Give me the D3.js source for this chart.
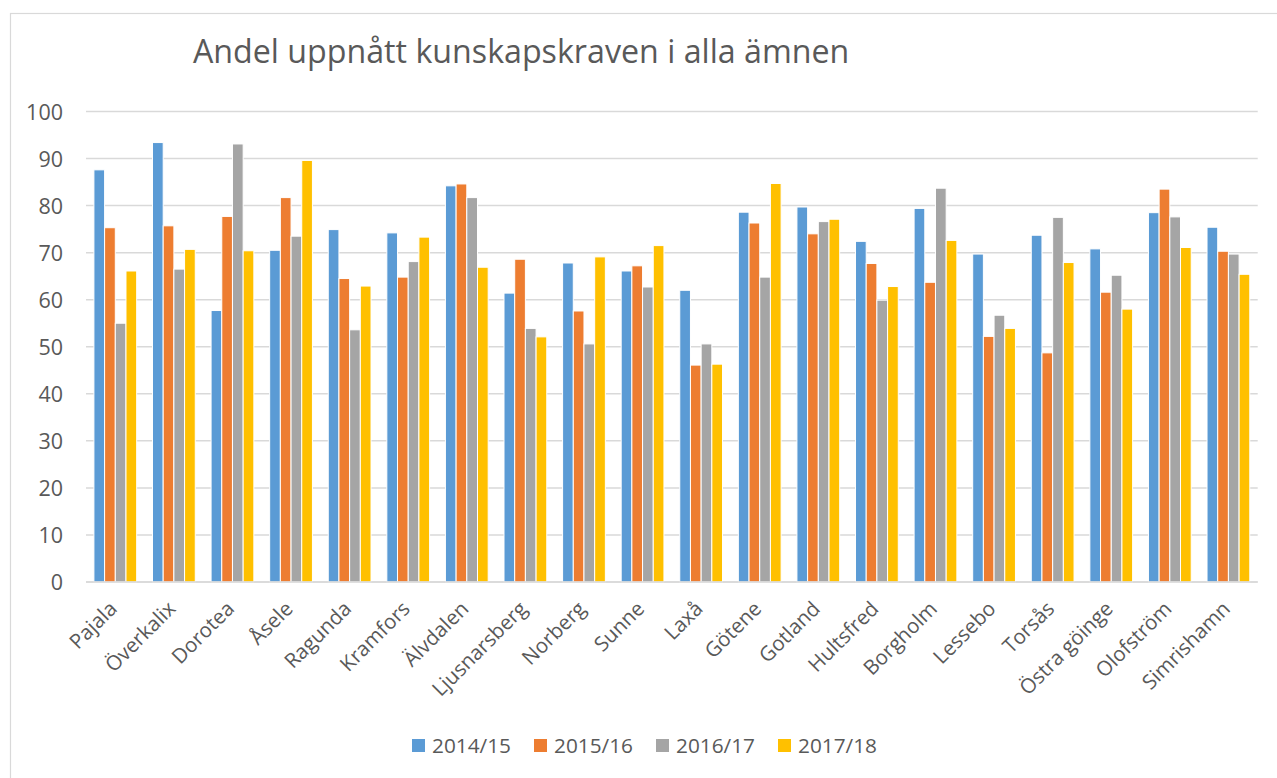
<!DOCTYPE html>
<html>
<head>
<meta charset="utf-8">
<script src="https://cdn.jsdelivr.net/npm/d3@7"></script>
<style>
  html, body { margin: 0; padding: 0; background: #fff; }
  text { font-family: "Open Sans", sans-serif; fill: #595959; }
</style>
</head>
<body>
<div id="chart"></div>
<script>
// kommuner och läsår
const categories = ["Pajala", "Överkalix", "Dorotea", "Åsele", "Ragunda", "Kramfors", "Älvdalen",
  "Ljusnarsberg", "Norberg", "Sunne", "Laxå", "Götene", "Gotland", "Hultsfred", "Borgholm",
  "Lessebo", "Torsås", "Östra göinge", "Olofström", "Simrishamn"];
const seriesNames = ["2014/15", "2015/16", "2016/17", "2017/18"];

const v2014 = [87.6, 93.4, 57.7, 70.5, 74.9, 74.2, 84.2, 61.4, 67.8, 66.1, 62.0, 78.6, 79.7, 72.4, 79.4, 69.7, 73.7, 70.8, 78.5, 75.4];
const v2015 = [75.3, 75.7, 77.7, 81.7, 64.5, 64.8, 84.6, 68.6, 57.6, 67.2, 46.1, 76.3, 74.0, 67.7, 63.7, 52.2, 48.7, 61.6, 83.5, 70.3];
const v2016 = [55.0, 66.5, 93.1, 73.5, 53.6, 68.1, 81.7, 53.9, 50.6, 62.7, 50.6, 64.8, 76.6, 59.9, 83.7, 56.7, 77.5, 65.2, 77.6, 69.7];
const v2017 = [66.1, 70.7, 70.4, 89.6, 62.9, 73.3, 66.9, 52.1, 69.1, 71.5, 46.3, 84.7, 77.1, 62.8, 72.6, 53.9, 67.9, 58.0, 71.1, 65.4];
const yTicks = [0, 10, 20, 30, 40, 50, 60, 70, 80, 90, 100];
const colors = ["#5B9BD5", "#ED7D31", "#A5A5A5", "#FFC000"];

const allSeries = [v2014, v2015, v2016, v2017];
const rows = categories.map((c, i) => ({
  name: c,
  values: seriesNames.map((s, j) => ({ key: s, value: allSeries[j][i] }))
}));

const width = 1277, height = 778;
const svg = d3.select("#chart").append("svg")
  .attr("width", width).attr("height", height);

// ram runt diagrammet
svg.append("rect")
  .attr("x", 10.5).attr("y", 13.5)
  .attr("width", 1300).attr("height", 800)
  .attr("fill", "none").attr("stroke", "#d9d9d9").attr("stroke-width", 1.2);

const x0 = d3.scaleBand().domain(categories).range([86, 1257.7])
  .paddingInner(0.27).paddingOuter(0.135);
const x1 = d3.scaleBand().domain(seriesNames).range([0, x0.bandwidth()]);
const y = d3.scaleLinear().domain([0, 100]).range([582, 111.5]);

// rutnät
svg.append("g")
  .selectAll("line")
  .data(yTicks)
  .enter().append("line")
  .attr("x1", 86).attr("x2", 1257.7)
  .attr("y1", d => y(d)).attr("y2", d => y(d))
  .attr("stroke", "#d9d9d9").attr("stroke-width", 1.5);

// y-axel
const yAxis = svg.append("g")
  .attr("transform", "translate(63,0)")
  .call(d3.axisLeft(y).tickValues(yTicks).tickSize(0).tickPadding(0));
yAxis.select(".domain").remove();
yAxis.selectAll("text")
  .style("font-size", "21.5px")
  .attr("dy", "0.35em");

// staplar
svg.append("g")
  .selectAll("g")
  .data(rows)
  .enter().append("g")
  .attr("transform", d => `translate(${x0(d.name)},0)`)
  .selectAll("rect")
  .data(d => d.values)
  .enter().append("rect")
  .attr("x", d => x1(d.key))
  .attr("y", d => y(d.value))
  .attr("width", x1.bandwidth())
  .attr("height", d => y(0) - y(d.value))
  .attr("fill", (d, i) => colors[i])
  .attr("stroke", "#fff")
  .attr("stroke-width", 1);

// x-axel, etiketter roterade
const xAxis = svg.append("g")
  .attr("transform", `translate(0,${y(0)})`)
  .call(d3.axisBottom(x0).tickSize(0).tickPadding(0));
xAxis.select(".domain").attr("stroke", "#d9d9d9").attr("stroke-width", 1.5)
  .attr("d", "M86,0H1257.7");
xAxis.selectAll(".tick text")
  .style("font-size", "20.5px")
  .attr("text-anchor", "end")
  .attr("x", 0).attr("y", 0).attr("dy", 0)
  .attr("transform", "translate(3,28) rotate(-45)");

// titel
svg.append("text")
  .attr("x", 193).attr("y", 63)
  .style("font-size", "32.2px")
  .text("Andel uppnått kunskapskraven i alla ämnen");

// förklaring
const legend = svg.append("g")
  .selectAll("g")
  .data(seriesNames)
  .enter().append("g")
  .attr("transform", (d, i) => `translate(${412 + i * 122},739)`);
legend.append("rect")
  .attr("width", 13).attr("height", 13)
  .attr("fill", (d, i) => colors[i]);
legend.append("text")
  .attr("x", 20).attr("y", 13.5)
  .style("font-size", "20.8px")
  .text(d => d);
</script>
</body>
</html>
